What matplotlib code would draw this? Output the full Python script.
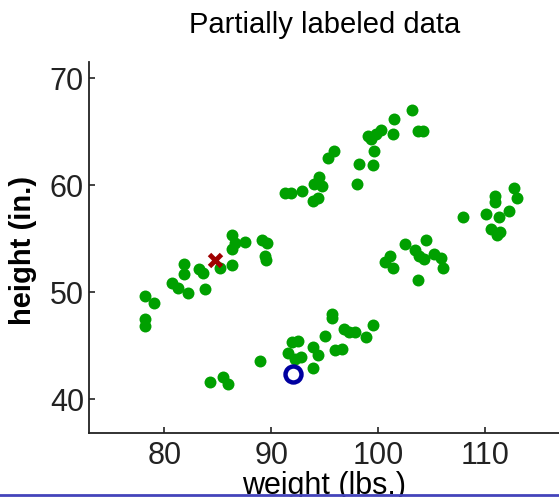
import matplotlib
matplotlib.use("Agg")
import matplotlib.pyplot as plt
from matplotlib.lines import Line2D

plt.rcParams['font.family'] = ['Liberation Sans', 'DejaVu Sans']

# unlabeled points (weight lbs, height in.)
weight = [78.2, 79.0, 78.2, 78.2, 80.7, 81.3, 82.2, 81.8, 81.8, 83.2, 83.6, 83.8,
          85.2, 86.3, 86.3, 86.3, 86.6, 87.5, 89.1, 89.6, 89.4, 89.5,
          91.3, 91.8, 92.9, 93.9, 94.4, 94.0, 94.5, 94.7, 95.3, 95.9, 98.0, 98.2,
          99.5, 99.6, 99.0, 99.3, 99.8, 100.3, 101.5, 101.4, 103.2, 103.7, 104.2,
          84.3, 85.5, 86.0, 88.9, 91.9, 92.5, 91.6, 92.2, 92.8, 93.9, 93.9,
          94.4, 95.0, 95.7, 95.7, 96.0, 96.6, 96.8, 97.3, 97.8, 98.9, 99.5,
          100.6, 101.1, 101.4, 102.5, 103.4, 103.8, 104.5, 104.3, 105.2, 105.9,
          106.1, 103.7, 107.9, 110.1, 110.5, 110.9, 110.9, 111.3, 111.1, 111.4,
          112.2, 112.7, 113.0]
height = [49.6, 49.0, 47.5, 46.8, 50.9, 50.4, 49.9, 52.6, 51.7, 52.2, 51.8, 50.3,
          52.3, 52.5, 55.3, 54.0, 54.6, 54.7, 54.9, 54.6, 53.4, 53.0,
          59.3, 59.3, 59.5, 58.5, 58.8, 60.1, 60.8, 59.9, 62.5, 63.2, 60.1, 62.0,
          61.9, 63.2, 64.6, 64.3, 64.8, 65.2, 66.2, 64.8, 67.0, 65.1, 65.1,
          41.6, 42.1, 41.4, 43.6, 45.3, 45.4, 44.3, 43.8, 43.9, 42.9, 44.9,
          44.1, 45.9, 48.0, 47.6, 44.6, 44.7, 46.6, 46.3, 46.3, 45.8, 46.9,
          52.8, 53.4, 52.3, 54.5, 53.9, 53.4, 54.9, 53.1, 53.6, 53.2,
          52.3, 51.1, 57.0, 57.3, 55.9, 59.0, 58.4, 57.0, 55.3, 55.6,
          57.6, 59.7, 58.8]

# the two labeled points
red_pt = (84.7, 53.0)
blue_pt = (92.0, 42.4)

fig = plt.figure(figsize=(5.59, 4.97), dpi=100)
ax = fig.add_axes([0.16, 0.129, 0.84, 0.746])

ax.plot(weight, height, 'o', color='#00a000', ms=8.6, mew=0)
ax.plot(red_pt[0], red_pt[1], 'x', color='#a00000', ms=9, mew=3.5)
ax.plot(blue_pt[0], blue_pt[1], 'o', mfc='none', mec='#0000a0', ms=11.5, mew=3.2)

ax.set_xlim(73, 116.9)
ax.set_ylim(36.85, 71.5)
ax.set_xticks([80, 90, 100, 110])
ax.set_yticks([40, 50, 60, 70])
ax.tick_params(direction='in', length=4, width=1.2, labelsize=22, colors='#222222')
ax.tick_params(axis='x', pad=6)
ax.tick_params(axis='y', pad=4)

for s in ['top', 'right']:
    ax.spines[s].set_visible(False)
for s in ['left', 'bottom']:
    ax.spines[s].set_linewidth(1.3)
    ax.spines[s].set_color('#222222')

ax.set_title("Partially labeled data", fontsize=21, pad=21)
ax.set_xlabel("weight (lbs.)", fontsize=22)
ax.set_ylabel("height (in.)", fontsize=21, fontweight='bold')
ax.xaxis.set_label_coords(0.5, -0.103)
ax.yaxis.set_label_coords(-0.111, 0.493)

# thin blue rule along the bottom edge
fig.add_artist(Line2D([0, 1], [0.004, 0.004], color='#4444bb', lw=2,
                      transform=fig.transFigure))

fig.savefig("out.png", dpi=100)
